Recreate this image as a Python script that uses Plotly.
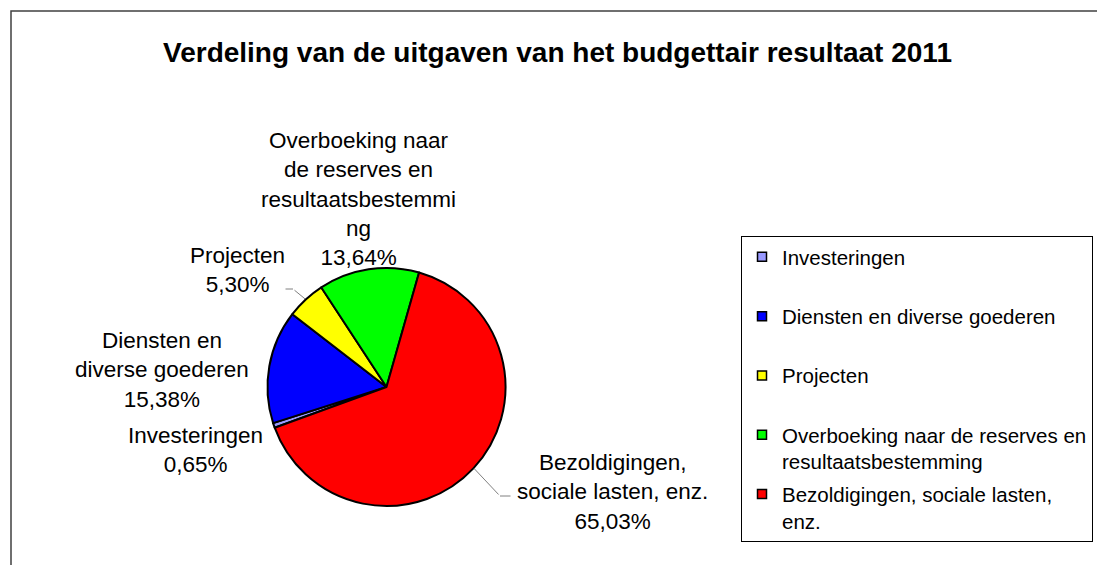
import math

import plotly.graph_objects as go

# Data, in the order of the legend (clockwise in the pie)
categories = [
    "Investeringen",
    "Diensten en diverse goederen",
    "Projecten",
    "Overboeking naar de reserves en resultaatsbestemming",
    "Bezoldigingen, sociale lasten, enz.",
]
shares = [0.65, 15.38, 5.30, 13.64, 65.03]
slice_labels = [
    "Investeringen",
    "Diensten en<br>diverse goederen",
    "Projecten",
    "Overboeking naar<br>de reserves en<br>resultaatsbestemmi<br>ng",
    "Bezoldigingen,<br>sociale lasten, enz.",
]
legend_labels = [
    "Investeringen",
    "Diensten en diverse goederen",
    "Projecten",
    "Overboeking naar de reserves en<br>resultaatsbestemming",
    "Bezoldigingen, sociale lasten,<br>enz.",
]
colors = ["#9999FF", "#0000FF", "#FFFF00", "#00FF00", "#FF0000"]

FONT = "Arial, Liberation Sans, sans-serif"
W, H = 1097, 557   # page has an 8px body margin
OFF = 8


def px(x):
    return (x - OFF) / W


def py(y):
    return 1 - (y - OFF) / H


# pie placement (page pixels)
CX, CY, R = 386.5, 387, 119
ROTATION = 250

# where the data labels sit (page pixels, centre of text block)
label_pos = [(195, 450), (162, 370), (237, 270), (358, 199), (612, 492)]
# leader lines: label end -> elbow, then elbow -> slice edge
leaders = {2: ((284, 289), (293, 289)), 4: ((512, 496), (500, 496))}

fig = go.Figure()

fig.add_trace(go.Pie(
    labels=categories,
    values=shares,
    textinfo="none",
    marker=dict(colors=colors, line=dict(color="#000000", width=2)),
    sort=False,
    direction="clockwise",
    rotation=ROTATION,
    showlegend=False,
    hoverinfo="label+percent",
    domain=dict(x=[px(CX - R), px(CX + R)], y=[py(CY + R), py(CY - R)]),
))

# legend entries as empty marker traces so the spacing can be controlled
for i, (name, color) in enumerate(zip(legend_labels, colors)):
    if "<br>" not in name:
        name = name + "<br>\u00a0"
    fig.add_trace(go.Scatter(
        x=[None], y=[None],
        mode="markers",
        name=name,
        legendgroup=f"g{i}",
        marker=dict(symbol="square", size=9, color=color,
                    line=dict(color="#000000", width=1.5)),
    ))

# data labels with percentages
total = sum(shares)
annotations = []
cum = 0.0
for i, (lab, val) in enumerate(zip(slice_labels, shares)):
    pct = f"{100 * val / total:.2f}".replace(".", ",") + "%"
    lx, ly = label_pos[i]
    annotations.append(dict(
        x=px(lx), y=py(ly), xref="paper", yref="paper",
        text=f"{lab}<br>{pct}", showarrow=False,
        xanchor="center", yanchor="middle", align="center",
        font=dict(family=FONT, size=22.5, color="#000000"),
    ))
    mid = math.radians(ROTATION + 360 * (cum + val / 2) / total)
    cum += val
    if i in leaders:
        start, elbow = leaders[i]
        edge = (CX + (R + 1) * math.sin(mid), CY - (R + 1) * math.cos(mid))
        for a, b in ((start, elbow), (elbow, edge)):
            annotations.append(dict(
                x=px(b[0]), y=py(b[1]), xref="paper", yref="paper",
                ax=a[0] - b[0], ay=a[1] - b[1], axref="pixel", ayref="pixel",
                text="", showarrow=True, arrowhead=0, standoff=0,
                arrowwidth=1, arrowcolor="#808080",
            ))

fig.update_layout(
    width=W,
    height=H,
    margin=dict(l=0, r=0, t=0, b=0),
    paper_bgcolor="white",
    plot_bgcolor="white",
    font=dict(family=FONT, color="#000000"),
    title=dict(
        text="<b>Verdeling van de uitgaven van het budgettair resultaat 2011</b>",
        x=px(557.5), xanchor="center",
        y=py(52), yanchor="middle",
        font=dict(family=FONT, size=28, color="#000000"),
    ),
    xaxis=dict(visible=False),
    yaxis=dict(visible=False),
    legend=dict(
        x=px(741), xanchor="left",
        y=py(236), yanchor="top",
        bordercolor="#000000",
        borderwidth=1,
        bgcolor="white",
        font=dict(family=FONT, size=20.5, color="#000000"),
        valign="top",
        tracegroupgap=3,
    ),
    annotations=annotations,
    shapes=[dict(
        type="rect", xref="paper", yref="paper",
        x0=px(11), x1=1.02, y0=-0.02, y1=py(11),
        line=dict(color="#404040", width=1.5),
    )],
)

fig.write_html("out.html")
